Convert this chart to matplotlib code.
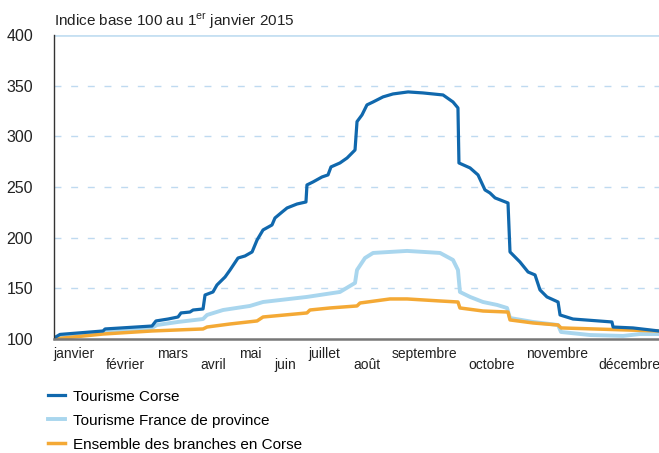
import matplotlib
matplotlib.use("Agg")
import matplotlib.pyplot as plt

plt.rcParams['font.family'] = ['Liberation Sans', 'DejaVu Sans']
plt.rcParams['mathtext.fontset'] = 'custom'
plt.rcParams['mathtext.rm'] = 'Liberation Sans'

# x = jour de l'année (0-365)
corse_x = [0, 3.6, 29.6, 30.8, 59.1, 61.5, 68.8, 74.8, 76.6, 82.0, 83.9, 89.9, 91.1, 95.9,
           98.3, 103.2, 106.2, 111.0, 115.2, 119.5, 122.5, 126.1, 131.5, 133.3, 137.6,
           140.6, 146.6, 152.0, 152.6, 156.3, 161.7, 165.3, 167.1, 172.5, 176.8, 181.6,
           182.8, 185.8, 188.8, 192.5, 198.5, 204.5, 213.6, 222.6, 234.7, 240.7, 243.7,
           244.3, 251.0, 255.8, 260.0, 263.0, 266.1, 273.9, 275.1, 281.1, 286.0, 290.2,
           293.2, 297.4, 304.1, 305.3, 313.1, 320.4, 336.6, 337.3, 349.3, 365]
corse_y = [101, 104.5, 107.9, 109.9, 112.8, 117.8, 119.7, 121.7, 125.7, 126.6, 128.6, 129.6,
           143.4, 146.4, 153.3, 161.2, 168.1, 179.9, 181.9, 185.9, 197.7, 207.6, 212.5,
           219.4, 225.3, 229.3, 233.2, 235.2, 252.0, 255.0, 259.9, 261.9, 269.8, 273.7,
           278.6, 286.5, 314.5, 321.1, 331.0, 333.9, 338.9, 341.8, 343.8, 342.8, 340.8,
           333.9, 328.0, 273.7, 268.8, 261.9, 247.1, 244.1, 239.2, 234.2, 185.9, 176.0,
           166.1, 163.2, 148.4, 141.5, 136.5, 123.7, 119.7, 118.8, 116.8, 111.8, 110.9, 107.9]

province_x = [0, 3.6, 29.6, 59.1, 62.1, 74.8, 89.9, 92.3, 102.0, 118.2, 126.1, 152.6, 172.5,
              181.6, 182.8, 187.6, 192.5, 202.7, 213.0, 232.9, 240.7, 243.7, 244.9, 251.0,
              258.8, 267.3, 273.3, 275.1, 289.0, 304.1, 305.9, 323.4, 343.3, 353.5, 365]
province_y = [100.5, 103.0, 106.9, 110.9, 113.8, 116.8, 119.7, 123.7, 128.6, 132.6, 136.5,
              141.5, 146.4, 155.3, 168.1, 179.9, 184.9, 185.9, 186.9, 184.9, 178.0, 168.1,
              146.4, 141.5, 136.5, 133.6, 130.6, 120.7, 116.8, 113.8, 106.9, 103.9, 103.0,
              104.9, 104.9]

ensemble_x = [0, 29.6, 59.1, 89.9, 92.3, 106.2, 122.5, 126.1, 152.6, 154.4, 166.5, 182.8,
              184.6, 202.7, 213.0, 232.9, 243.7, 244.9, 258.8, 273.9, 275.1, 289.0, 304.1,
              305.9, 365]
ensemble_y = [100, 104.9, 107.9, 109.9, 111.8, 114.8, 117.8, 121.7, 125.7, 128.6, 130.6,
              132.6, 135.5, 139.5, 139.5, 137.5, 136.5, 130.6, 127.6, 126.6, 118.8, 115.8,
              113.8, 110.9, 107.9]

mois = ['janvier', 'février', 'mars', 'avril', 'mai', 'juin', 'juillet', 'août',
        'septembre', 'octobre', 'novembre', 'décembre']
mois_pos = [12.1, 42.8, 71.2, 95.9, 118.2, 139.4, 162.9, 188.8, 223.8, 264.2, 303.5, 346.9]

fig = plt.figure(figsize=(6.59, 4.53), dpi=100)
ax = fig.add_axes([0.082, 0.2517, 0.918, 0.6711])

for v in [150, 200, 250, 300, 350]:
    ax.axhline(v, color='#bfdaf0', lw=1, dashes=(5, 7), zorder=0)
ax.axhline(400, color='#c6e0f2', lw=2, zorder=0)

ax.plot(province_x, province_y, color='#a9d6ee', lw=2.8, label='Tourisme France de province')
ax.plot(ensemble_x, ensemble_y, color='#f4a935', lw=2.5, label='Ensemble des branches en Corse')
ax.plot(corse_x, corse_y, color='#1068ad', lw=2.3, label='Tourisme Corse')

ax.set_xlim(0, 365)
ax.set_ylim(100, 400)
ax.set_yticks([100, 150, 200, 250, 300, 350, 400])
ax.tick_params(axis='y', length=0, pad=15, labelsize=11.5, labelcolor='#222222')
ax.set_xticks(mois_pos)
ax.set_xticklabels(mois)
ax.tick_params(axis='x', length=0, pad=5.5, labelsize=10, labelcolor='#222222')
for i, t in enumerate(ax.xaxis.get_major_ticks()):
    if i % 2 == 1:
        t.set_pad(14)

for s in ['top', 'right']:
    ax.spines[s].set_visible(False)
ax.spines['left'].set_color('#333333')
ax.spines['left'].set_linewidth(1)
ax.spines['bottom'].set_color('#777777')
ax.spines['bottom'].set_linewidth(1.8)

fig.text(0.082, 0.953, r'Indice base 100 au 1$^{\mathrm{er}}$ janvier 2015', fontsize=11,
         color='#222222', va='center', ha='left')

h, l = ax.get_legend_handles_labels()
order = [2, 0, 1]
fig.legend([h[i] for i in order], [l[i] for i in order], loc='upper left',
           bbox_to_anchor=(0.073, 0.14), frameon=False, fontsize=11,
           handlelength=1.1, handletextpad=0.55, labelspacing=0.66, borderaxespad=0,
           borderpad=0)

fig.savefig('out.png', dpi=100)
